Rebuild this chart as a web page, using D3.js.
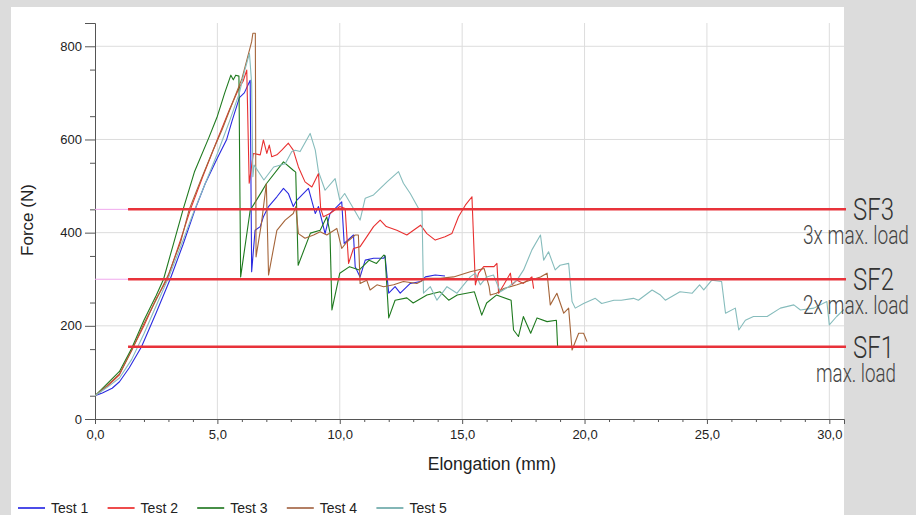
<!DOCTYPE html>
<html>
<head>
<meta charset="utf-8">
<script src="https://cdn.jsdelivr.net/npm/d3@7"></script>
<style>
  body { margin: 0; background: #dcdcdc; }
  svg { display: block; }
</style>
</head>
<body>
<div id="chart"></div>
<script>
// series: [elongation mm, force N]
const test1 = [[0,50],[0.3,56],[0.7,66],[1.0,80],[1.4,110],[1.9,155],[2.5,228],[3.07,300],[3.6,375],[4.09,450],[4.5,505],[5.0,560],[5.38,600],[5.6,640],[5.9,690],[6.1,700],[6.34,727],[6.4,316],[6.54,405],[6.75,413],[6.88,434],[7.09,456],[7.43,477],[7.7,495],[7.9,484],[8.1,456],[8.25,470],[8.72,495],[9.0,441],[9.13,456],[9.4,398],[9.6,441],[10.08,466],[10.18,377],[10.56,395],[10.63,327],[10.83,305],[11.04,341],[11.38,345],[11.79,345],[11.85,350],[12.0,270],[12.26,284],[12.47,270],[12.88,291],[13.3,295],[13.5,305],[13.9,309],[14.3,307]];
const test2 = [[0,50],[0.5,70],[1.0,95],[1.5,148],[2.0,200],[2.5,258],[2.95,300],[3.5,385],[3.9,450],[4.4,520],[5.0,600],[5.5,665],[5.9,712],[6.05,725],[6.2,749],[6.3,506],[6.47,570],[6.75,567],[6.88,599],[7.02,570],[7.12,588],[7.22,563],[7.43,567],[7.63,577],[7.9,592],[8.1,577],[8.31,541],[8.58,509],[8.86,498],[9.13,527],[9.22,452],[9.33,434],[9.6,441],[10.0,456],[10.22,452],[10.36,334],[10.56,366],[10.83,370],[11.1,391],[11.38,413],[11.65,427],[11.9,413],[12.33,405],[12.74,395],[13.3,416],[13.56,398],[13.9,384],[14.3,391],[14.58,398],[14.85,434],[15.13,459],[15.4,477],[15.54,288],[15.67,313],[15.88,327],[16.3,327],[16.42,334],[16.49,270],[16.7,288],[16.97,313],[17.04,288],[17.24,298],[17.5,291],[17.85,305],[17.92,280]];
const test3 = [[0,50],[0.5,76],[1.0,102],[1.5,152],[2.0,212],[2.5,265],[2.8,300],[3.2,375],[3.6,450],[4.06,530],[4.66,605],[5.0,650],[5.3,700],[5.55,738],[5.65,728],[5.75,738],[5.88,736],[5.95,305],[6.34,448],[6.81,488],[7.0,505],[7.7,552],[8.1,534],[8.2,530],[8.3,330],[8.8,399],[9.2,405],[9.47,434],[9.6,400],[9.68,234],[10.0,313],[10.4,327],[10.8,320],[11.2,341],[11.5,334],[11.8,352],[11.85,350],[12.0,217],[12.26,255],[12.74,260],[13.0,249],[13.56,266],[14.1,273],[14.45,255],[14.8,266],[15.5,273],[15.8,223],[16.0,249],[16.4,266],[17.0,255],[17.1,191],[17.3,177],[17.5,220],[17.8,184],[18.06,217],[18.47,209],[18.85,212],[18.9,155]];
const test4 = [[0,50],[0.5,72],[1.0,97],[1.5,147],[2.0,205],[2.5,256],[3.0,310],[3.5,380],[3.85,450],[4.3,510],[4.85,580],[5.2,622],[5.7,690],[6.0,730],[6.2,770],[6.4,810],[6.45,828],[6.55,828],[6.58,348],[6.8,420],[7.0,505],[7.09,309],[7.43,405],[7.77,427],[8.1,441],[8.2,456],[8.31,398],[8.58,388],[8.93,395],[9.2,402],[9.47,395],[9.88,409],[10.08,366],[10.29,380],[10.63,395],[10.76,395],[10.83,291],[11.1,298],[11.24,277],[11.52,288],[11.79,284],[12.2,288],[12.6,295],[13.15,291],[13.56,302],[14.1,302],[14.65,305],[15.33,316],[15.9,323],[16.1,284],[16.15,266],[16.4,270],[16.7,280],[17.24,288],[17.78,298],[18.2,305],[18.47,313],[18.6,245],[18.87,270],[19.15,227],[19.35,238],[19.49,148],[19.76,184],[19.96,184],[20.1,166]];
const test5 = [[0,50],[0.5,68],[1.0,88],[1.5,128],[2.0,183],[2.5,243],[3.0,303],[3.5,370],[4.0,440],[4.5,505],[5.0,570],[5.5,640],[5.9,700],[6.1,745],[6.31,785],[6.4,720],[6.45,520],[6.5,545],[6.9,513],[7.3,541],[7.77,548],[8.04,574],[8.18,577],[8.38,574],[8.79,613],[9.0,577],[9.13,531],[9.4,491],[9.81,516],[10.0,470],[10.2,484],[10.6,448],[10.83,427],[11.04,474],[11.38,481],[11.93,509],[12.4,531],[12.6,506],[12.88,484],[13.22,452],[13.36,448],[13.42,270],[13.7,284],[13.97,255],[14.38,284],[14.79,270],[15.06,288],[15.33,305],[15.54,313],[15.74,288],[16.0,305],[16.28,309],[16.56,273],[16.9,284],[17.24,298],[17.51,320],[17.85,363],[18.2,395],[18.33,341],[18.53,359],[18.8,320],[19.0,330],[19.35,334],[19.49,252],[19.62,238],[19.96,248],[20.44,259],[20.7,248],[21.2,255],[21.5,255],[22.0,259],[22.2,255],[22.76,277],[23.1,266],[23.3,255],[23.9,273],[24.4,270],[24.7,288],[24.87,277],[25.2,298],[25.6,295],[25.76,227],[26.16,238],[26.3,191],[26.57,212],[26.9,220],[27.46,220],[28.0,238],[28.55,245],[28.82,234],[29.37,238],[29.9,252],[30.0,202],[30.3,220],[30.6,235]];

const seriesNames = ['Test 1', 'Test 2', 'Test 3', 'Test 4', 'Test 5'];
const seriesData = [test1, test2, test3, test4, test5];
const seriesColors = ['#2a2ae0', '#e83030', '#1f7a1f', '#a5653a', '#86bcbc'];
const legendColors = ['#1010e0', '#e81010', '#0a6a0a', '#9a5530', '#5a9e9e'];

const xTicks = [0, 5, 10, 15, 20, 25, 30];
const yTicks = [0, 200, 400, 600, 800];

const sfValues = [450, 300, 155];
const sfNames = ['SF3', 'SF2', 'SF1'];
const sfSubs = ['3x max. load', '2x max. load', 'max. load'];

const width = 916;
const height = 515;

const svg = d3.select('#chart')
    .append('svg')
    .attr('width', width)
    .attr('height', height);

svg.append('rect')
    .attr('width', width).attr('height', height)
    .attr('fill', '#dcdcdc');
svg.append('rect')
    .attr('x', 11).attr('y', 7)
    .attr('width', 833).attr('height', height - 7)
    .attr('fill', '#ffffff');

const x = d3.scaleLinear().domain([0, 30.6]).range([95, 844]);
const y = d3.scaleLinear().domain([0, 850]).range([419, 23]);

// grid
svg.append('g')
    .selectAll('line')
    .data(xTicks.filter(d => d > 0))
    .enter().append('line')
    .attr('x1', d => x(d)).attr('x2', d => x(d))
    .attr('y1', y(850)).attr('y2', y(0))
    .attr('stroke', '#dddddd');
svg.append('g')
    .selectAll('line')
    .data(yTicks.filter(d => d > 0))
    .enter().append('line')
    .attr('x1', x(0)).attr('x2', x(30.6))
    .attr('y1', d => y(d)).attr('y2', d => y(d))
    .attr('stroke', '#dddddd');

// axes
const yAxis = d3.axisLeft(y)
    .tickValues(yTicks)
    .tickSize(10)
    .tickPadding(3)
    .tickFormat(d3.format('d'));
const yMinor = d3.axisLeft(y)
    .tickValues(d3.range(50, 850, 100))
    .tickSize(5)
    .tickFormat('');
const xAxis = d3.axisBottom(x)
    .tickValues(xTicks)
    .tickSize(5)
    .tickPadding(6)
    .tickFormat(d => d3.format('.1f')(d).replace('.', ','));
const xMinor = d3.axisBottom(x)
    .tickValues(d3.range(1, 31, 1).filter(d => d % 5 !== 0))
    .tickSize(3)
    .tickFormat('');

function styleAxis(g) {
    g.selectAll('.domain').attr('stroke', '#555');
    g.selectAll('.tick line').attr('stroke', '#555');
    g.selectAll('text')
        .attr('fill', '#222')
        .style('font-family', 'Liberation Sans, Arial, sans-serif')
        .style('font-size', '13px');
}

svg.append('g').attr('transform', 'translate(95,0)').call(yAxis).call(styleAxis);
svg.append('g').attr('transform', 'translate(95,0)').call(yMinor).call(styleAxis)
    .select('.domain').remove();
svg.append('g').attr('transform', 'translate(0,419)').call(xAxis).call(styleAxis);
svg.append('g').attr('transform', 'translate(0,419)').call(xMinor).call(styleAxis)
    .select('.domain').remove();

svg.append('text')
    .attr('transform', 'translate(33,220) rotate(-90)')
    .attr('text-anchor', 'middle')
    .style('font-family', 'Liberation Sans, Arial, sans-serif')
    .style('font-size', '17px')
    .attr('fill', '#222')
    .text('Force (N)');

svg.append('text')
    .attr('x', 492).attr('y', 470)
    .attr('text-anchor', 'middle')
    .style('font-family', 'Liberation Sans, Arial, sans-serif')
    .style('font-size', '17.5px')
    .attr('fill', '#222')
    .text('Elongation (mm)');

// data lines
svg.append('clipPath').attr('id', 'plotclip')
    .append('rect')
    .attr('x', 95).attr('y', 20)
    .attr('width', 749).attr('height', 400);

const line = d3.line()
    .x(d => x(d[0]))
    .y(d => y(d[1]));

svg.append('g')
    .attr('clip-path', 'url(#plotclip)')
    .selectAll('path')
    .data(seriesData)
    .enter().append('path')
    .attr('d', line)
    .attr('fill', 'none')
    .attr('stroke', (d, i) => seriesColors[i])
    .attr('stroke-width', 1.1)
    .attr('stroke-linejoin', 'round');

// safety factor lines
const sf = svg.append('g');
sf.selectAll('.pink')
    .data(sfValues.slice(0, 2))
    .enter().append('line')
    .attr('class', 'pink')
    .attr('x1', x(0)).attr('x2', x(1.35))
    .attr('y1', d => y(d)).attr('y2', d => y(d))
    .attr('stroke', '#f0a8ee')
    .attr('stroke-width', 1);
sf.selectAll('.sf')
    .data(sfValues)
    .enter().append('line')
    .attr('class', 'sf')
    .attr('x1', x(1.35)).attr('x2', 846)
    .attr('y1', d => y(d)).attr('y2', d => y(d))
    .attr('stroke', '#e8323a')
    .attr('stroke-width', 2.5);

// condensed labels: squeeze the text horizontally to the width seen in the picture
const labelFont = 'Roboto, "Noto Sans", sans-serif';
function condensed(sel, left, baseline, targetWidth, size, color) {
    sel.style('font-family', labelFont)
        .style('font-weight', 300)
        .style('font-size', size + 'px')
        .attr('fill', color)
        .attr('transform', function() {
            const k = targetWidth / this.getComputedTextLength();
            return `translate(${left}, ${baseline}) scale(${k}, 1)`;
        });
}
sfValues.forEach((v, i) => {
    sf.append('text').text(sfNames[i])
        .call(condensed, 853, y(v) + 11, 41, 32, '#333');
    sf.append('text').text(sfSubs[i])
        .call(condensed, i === 2 ? 816 : 803, y(v) + 35, i === 2 ? 80 : 106, 26, '#444');
});

// legend
const legend = svg.append('g');
seriesNames.forEach((name, i) => {
    const lx = 18 + i * 89.6;
    const g = legend.append('g').attr('transform', `translate(${lx}, 508)`);
    g.append('line')
        .attr('x1', 0).attr('x2', 27)
        .attr('stroke', legendColors[i])
        .attr('stroke-width', 1.5);
    g.append('text')
        .attr('x', 33).attr('y', 5)
        .style('font-family', 'Liberation Sans, Arial, sans-serif')
        .style('font-size', '14px')
        .attr('fill', '#222')
        .text(name);
});
</script>
</body>
</html>
